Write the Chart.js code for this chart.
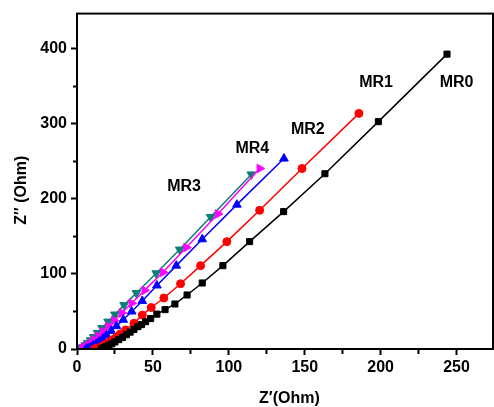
<!DOCTYPE html>
<html>
<head>
<meta charset="utf-8">
<title>Nyquist MR0-MR4</title>
<script src="https://cdn.jsdelivr.net/npm/chart.js@4.4.1/dist/chart.umd.min.js"></script>
<style>
  body { margin: 0; background: #fff; }
  #box { width: 494px; height: 407px; }
</style>
</head>
<body>
<div id="box"><canvas id="nyquist"></canvas></div>
<script>
// valori: Z' (asse x) e Z'' (asse y) in Ohm
var mr0Re = [243.7, 198.5, 163.3, 136.1, 113.7, 96.1, 82.5, 72.5, 64.5, 58, 52.6, 48.5, 45.2, 42.5, 40.1, 37.5, 35, 32.5, 30, 27.5, 25, 23, 21, 19, 17.5, 16];
var mr0Im = [393, 303, 233.6, 183.1, 143.1, 111.1, 88, 72, 60, 52.5, 46.5, 40.5, 36.4, 32.5, 29.8, 26, 22.5, 19, 15.5, 12.5, 9.5, 7, 5, 3, 1.5, 0.5];

var mr1Re = [185.7, 148.2, 120.3, 98.7, 81.4, 68.2, 57.2, 48.9, 43, 37.5, 32, 28.5, 26, 23.5, 21.5, 19.5, 17.5, 16, 14.5, 13, 11.5];
var mr1Im = [314, 240.6, 184.8, 143.1, 111.1, 87, 68, 55.3, 45.2, 34.3, 25.4, 20, 16, 12.5, 9.5, 7, 4.7, 3, 1.6, 0.7, 0.2];

var mr2Re = [136.3, 105.3, 82.5, 65.4, 52.6, 43, 36, 30.5, 26, 22.5, 19.5, 17, 14.5, 12.5, 10.5, 9, 7.5, 6];
var mr2Im = [253.8, 192.4, 146.2, 111.1, 84.7, 64, 50, 39, 30.5, 24, 18.5, 14, 10, 7, 4.5, 2.5, 1.2, 0.4];

var mr4Re = [120.3, 92.8, 72, 56.6, 44.5, 36, 29.5, 24.5, 20.5, 17, 14, 11.5, 9.5, 7.5, 6, 4.5, 3.5];
var mr4Im = [240.6, 180, 135.2, 102.2, 78.1, 61, 48, 38, 30, 23, 17, 12, 8.3, 5.2, 3, 1.4, 0.4];

var mr3Re = [114.8, 88, 67.6, 52.2, 39.1, 31, 25, 20.5, 16.5, 13.5, 11, 9, 7, 5.5, 4, 3, 2];
var mr3Im = [232.7, 176, 132.5, 100.9, 74.6, 58.5, 46, 36.5, 28, 21.5, 16, 11.5, 8, 5, 2.8, 1.3, 0.4];

var xTicks = [0, 50, 100, 150, 200, 250];
var xMinor = [25, 75, 125, 175, 225];
var yTicks = [0, 100, 200, 300, 400];
var yMinor = [50, 150, 250, 350];

var sampleNames = ["MR0", "MR1", "MR2", "MR3", "MR4"];

function toPoints(re, im){

  var punti = [];
  for (var i = 0; i < re.length; i++) {
    punti.push({x: re[i], y: im[i]});
  }
  return punti;
}

function serie(nome, re, im, colore, forma, rot, raggio){

  return {
    label: nome,
    data: toPoints(re, im),
    showLine: true,
    borderColor: colore,
    backgroundColor: colore,
    borderWidth: 1.5,
    pointStyle: forma,
    pointRotation: rot,
    pointRadius: raggio,
    pointBorderWidth: 1,
    pointBackgroundColor: colore,
    pointBorderColor: colore,
    tension: 0
  };
}

// posizione delle scritte MR.. in unita' dei dati
var labelAt = [[250, 355], [197, 355], [152, 293], [70.5, 216.5], [115.5, 267]];

var labelPlugin = {
  id: 'mrLabels',
  afterDatasetsDraw: function(chart){
    var ctx = chart.ctx;
    var sx = chart.scales.x;
    var sy = chart.scales.y;
    ctx.save();
    ctx.font = 'bold 16px "Liberation Sans", Arial, sans-serif';
    ctx.fillStyle = '#000';
    ctx.textAlign = 'center';
    ctx.textBaseline = 'middle';
    for (var i = 0; i < sampleNames.length; i++) {
      ctx.fillText(sampleNames[i], sx.getPixelForValue(labelAt[i][0]), sy.getPixelForValue(labelAt[i][1]));
    }
    ctx.restore();
  }
};

var framePlugin = {
  id: 'frame',
  afterDraw: function(chart){
    var a = chart.chartArea;
    var ctx = chart.ctx;
    ctx.save();
    ctx.strokeStyle = '#000';
    ctx.lineWidth = 2;
    ctx.strokeRect(a.left, a.top, a.right - a.left, a.bottom - a.top);
    ctx.restore();
  }
};

function tickList(major, minor){

  return major.concat(minor).sort(function(a, b){ return a - b; }).map(function(v){ return {value: v}; });
}

function drawNyquist(){

  Chart.defaults.font.family = '"Liberation Sans", Arial, sans-serif';
  Chart.defaults.font.weight = 'bold';
  Chart.defaults.font.size = 16;
  Chart.defaults.color = '#000';

  var ctx = document.getElementById('nyquist').getContext('2d');
  var chart = new Chart(ctx, {
    type: 'scatter',
    data: {
      datasets: [
        serie(sampleNames[0], mr0Re, mr0Im, '#000000', 'rect', 0, 4.3),
        serie(sampleNames[1], mr1Re, mr1Im, '#ff0000', 'circle', 0, 4),
        serie(sampleNames[2], mr2Re, mr2Im, '#0000ff', 'triangle', 0, 5),
        serie(sampleNames[4], mr4Re, mr4Im, '#ff00ff', 'triangle', 90, 5),
        serie(sampleNames[3], mr3Re, mr3Im, '#0a7f78', 'triangle', 180, 5)
      ]
    },
    options: {
      responsive: true,
      maintainAspectRatio: false,
      animation: false,
      layout: { autoPadding: false, padding: { top: 10, right: 1, left: 0, bottom: 0 } },
      plugins: {
        legend: { display: false },
        tooltip: { enabled: false }
      },
      scales: {
        x: {
          type: 'linear',
          min: 0,
          max: 274,
          afterBuildTicks: function(scale){ scale.ticks = tickList(xTicks, xMinor); },
          afterFit: function(scale){ scale.height = 58; },
          ticks: {
            padding: 3,
            callback: function(v){ return xTicks.indexOf(v) > -1 ? v : ''; }
          },
          grid: {
            drawOnChartArea: false,
            tickLength: 6,
            tickWidth: 2,
            tickColor: '#000',
            tickBorderDash: function(c){ return (c.tick && xTicks.indexOf(c.tick.value) > -1) ? [] : [4, 20]; }
          },
          border: { color: '#000', width: 2 },
          title: {
            display: true,
            text: '  Z\u2032(Ohm)',
            font: { size: 16, weight: 'bold', lineHeight: 1 },
            padding: 0
          }
        },
        y: {
          type: 'linear',
          min: 0,
          max: 447,
          afterBuildTicks: function(scale){ scale.ticks = tickList(yTicks, yMinor); },
          afterFit: function(scale){ scale.width = 77; },
          ticks: {
            padding: 4,
            callback: function(v){ return yTicks.indexOf(v) > -1 ? v : ''; }
          },
          grid: {
            drawOnChartArea: false,
            tickLength: 6,
            tickWidth: 2,
            tickColor: '#000',
            tickBorderDash: function(c){ return (c.tick && yTicks.indexOf(c.tick.value) > -1) ? [] : [0, 2, 4, 20]; }
          },
          border: { color: '#000', width: 2 },
          title: {
            display: true,
            text: 'Z\u2033 (Ohm)    ',
            font: { size: 16, weight: 'bold', lineHeight: 1.2 },
            padding: { top: 12, bottom: 0 }
          }
        }
      }
    },
    plugins: [labelPlugin, framePlugin]
  });
}

drawNyquist();
</script>
</body>
</html>
